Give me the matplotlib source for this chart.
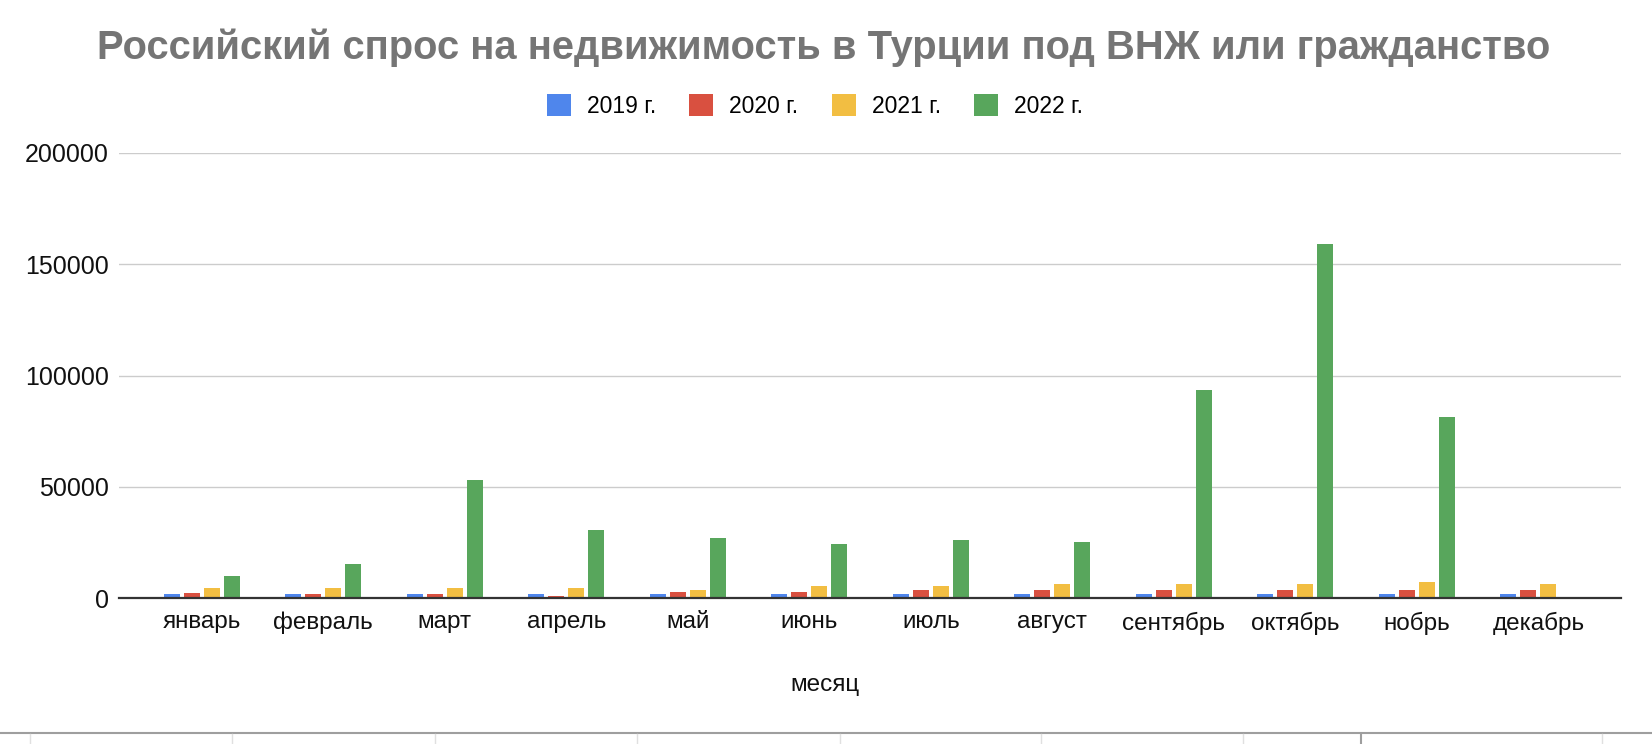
import matplotlib
matplotlib.use("Agg")
import matplotlib.pyplot as plt
import numpy as np
from matplotlib.patches import Patch
from matplotlib.lines import Line2D

plt.rcParams['font.family'] = ['Liberation Sans', 'DejaVu Sans']

months = ["январь", "февраль", "март", "апрель", "май", "июнь",
          "июль", "август", "сентябрь", "октябрь", "нобрь", "декабрь"]
series_names = ["2019 г.", "2020 г.", "2021 г.", "2022 г."]
v2019 = [1800, 1800, 1800, 1800, 1800, 1800, 1800, 1800, 1800, 1800, 1800, 1800]
v2020 = [2500, 1800, 1800, 1000, 2800, 2800, 3700, 3700, 3700, 3700, 3700, 3700]
v2021 = [4400, 4400, 4400, 4600, 3700, 5500, 5500, 6400, 6400, 6400, 7300, 6400]
v2022 = [10000, 15300, 53000, 30700, 27000, 24200, 26000, 25200, 93300, 159000, 81600, 0]
colors = ["#4f86ec", "#d95040", "#f2be42", "#58a65c"]
yticks = [0, 50000, 100000, 150000, 200000]

W, H = 1652, 744
fig = plt.figure(figsize=(W / 100, H / 100), dpi=100)
ax = fig.add_axes([119 / W, 1 - 598.3 / H, (1621 - 119) / W, (598.3 - 152.8) / H])

x = np.arange(len(months))
step = 20 / 121.5
bw = 16 / 121.5
for i, (vals, c) in enumerate(zip([v2019, v2020, v2021, v2022], colors)):
    ax.bar(x + (i - 1.5) * step, vals, width=bw, color=c, zorder=2, linewidth=0)

ax.set_xlim(-0.68, 11.68)
ax.set_ylim(0, 200000)
ax.set_yticks(yticks)
ax.set_yticklabels([str(t) for t in yticks], fontsize=18, color="#111111")
ax.set_xticks(x)
ax.set_xticklabels(months, fontsize=17.5, color="#111111")
ax.tick_params(axis='both', length=0)
ax.tick_params(axis='y', pad=7.5)
ax.tick_params(axis='x', pad=9.5)
ax.grid(axis='y', color="#cccccc", linewidth=1.0, zorder=0)
ax.set_axisbelow(True)
for s in ["top", "right", "left"]:
    ax.spines[s].set_visible(False)
ax.spines["bottom"].set_color("#333333")
ax.spines["bottom"].set_linewidth(1.6)
ax.spines["bottom"].set_zorder(3)

fig.text(824 / W, 1 - 59 / H, "Российский спрос на недвижимость в Турции под ВНЖ или гражданство",
         ha='center', va='baseline', fontsize=28.8, fontweight='bold', color="#757575")

handles = [Patch(facecolor=c, edgecolor='none') for c in colors]
fig.legend(handles, series_names, loc='center', bbox_to_anchor=(815 / W, 1 - 106 / H),
           ncol=4, frameon=False, fontsize=16.5, handlelength=1.05, handleheight=1.05,
           handletextpad=0.7, columnspacing=1.45, borderpad=0)

fig.text(825 / W, 1 - 685 / H, "месяц", ha='center', va='center', fontsize=17.5, color="#111111")

# spreadsheet cell lines at the bottom
fig.add_artist(Line2D([0, 1], [1 - 732.7 / H, 1 - 732.7 / H], transform=fig.transFigure,
                      color="#9e9e9e", linewidth=1.5))
for xp in [30, 232, 435, 637, 840, 1041, 1243, 1602]:
    fig.add_artist(Line2D([xp / W, xp / W], [0, 1 - 734 / H], transform=fig.transFigure,
                          color="#e0e0e0", linewidth=1.0))
fig.add_artist(Line2D([1361 / W, 1361 / W], [0, 1 - 734 / H], transform=fig.transFigure,
                      color="#9e9e9e", linewidth=1.5))

fig.savefig("out.png", dpi=100, facecolor="white")
